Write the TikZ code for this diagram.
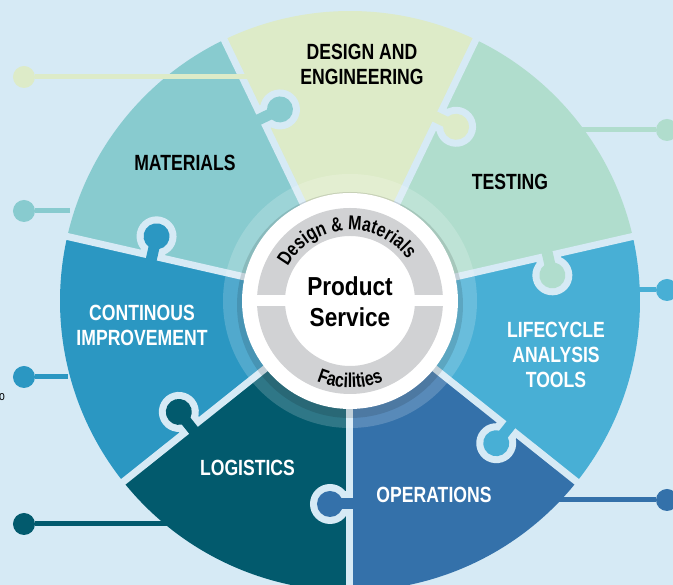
\documentclass[tikz,border=0pt]{standalone}
\usepackage{fontspec}
\setmainfont{Liberation Sans}[FakeStretch=0.8]
\newfontfamily\corefont{Liberation Sans}[FakeStretch=0.87]
\usepackage{tikz}
\usetikzlibrary{decorations}
\usetikzlibrary{decorations.text}

\definecolor{bgblue}{HTML}{D6EAF5}
\definecolor{cDesign}{HTML}{DDEBC8}
\definecolor{cTesting}{HTML}{B0DDCD}
\definecolor{cMaterials}{HTML}{88CBCF}
\definecolor{cContinous}{HTML}{2B97C2}
\definecolor{cLogistics}{HTML}{025A6D}
\definecolor{cOperations}{HTML}{3471AA}
\definecolor{cLifecycle}{HTML}{48AFD5}
\definecolor{bandgray}{HTML}{D1D2D4}

\begin{document}
\begin{tikzpicture}[x=1pt,y=1pt]
    \newcommand{\outr}{290}
    \newcommand{\piecefill}[3]{\fill[#1] (0,0) -- (#2:\outr) arc (#2:#3:\outr) -- cycle;}
    \newcommand{\piecetab}[2]{%
      \begin{scope}[rotate=#2]
        \fill[bgblue] (203,-20) circle (20);
        \fill[bgblue] (190.5,0) rectangle (215.5,-20);
        \fill[#1] (203,-20) circle (13);
        \fill[#1] (197.5,6) rectangle (208.5,-20);
      \end{scope}}
    \tikzstyle{piecetext}=[font=\bfseries\fontsize{22}{25}\selectfont, align=center, inner sep=0pt]
    \tikzstyle{pindot}=[circle, inner sep=0pt, minimum size=22pt]
    \tikzstyle{link}=[line width=5pt]
    \tikzstyle{gap}=[draw=bgblue, line width=7pt]

    \useasboundingbox (-350,-284) rectangle (323,301);
    \fill[bgblue] (-350,-284) rectangle (323,301);

    % puzzle pieces
    \piecefill{cOperations}{-90}{-38.571}
    \piecefill{cLifecycle}{-38.571}{12.857}
    \piecefill{cTesting}{12.857}{64.286}
    \piecefill{cDesign}{64.286}{115.714}
    \piecefill{cMaterials}{115.714}{167.143}
    \piecefill{cContinous}{167.143}{218.571}
    \piecefill{cLogistics}{218.571}{270}

    \draw[gap] (0,0) -- (-90:300);
    \draw[gap] (0,0) -- (-38.571:300);
    \draw[gap] (0,0) -- (12.857:300);
    \draw[gap] (0,0) -- (64.286:300);
    \draw[gap] (0,0) -- (115.714:300);
    \draw[gap] (0,0) -- (167.143:300);
    \draw[gap] (0,0) -- (218.571:300);

    \piecetab{cOperations}{-90}
    \piecetab{cLifecycle}{-38.571}
    \piecetab{cTesting}{12.857}
    \piecetab{cDesign}{64.286}
    \piecetab{cMaterials}{115.714}
    \piecetab{cContinous}{167.143}
    \piecetab{cLogistics}{218.571}

    % connectors
    \node[pindot, fill=cDesign] (dDesign) at (-326,224) {};
    \node[pindot, fill=cMaterials] (dMaterials) at (-326,90) {};
    \node[pindot, fill=cContinous] (dContinous) at (-326,-76) {};
    \node[pindot, fill=cLogistics] (dLogistics) at (-326,-223) {};
    \node[pindot, fill=cTesting] (dTesting) at (317,171) {};
    \node[pindot, fill=cLifecycle] (dLifecycle) at (317,11) {};
    \node[pindot, fill=cOperations] (dOperations) at (317,-199) {};
    \coordinate (eDesign) at (-95,224);
    \coordinate (eMaterials) at (-280,90);
    \coordinate (eContinous) at (-282,-76);
    \coordinate (eLogistics) at (-180,-223);
    \coordinate (eTesting) at (230,171);
    \coordinate (eLifecycle) at (285,11);
    \coordinate (eOperations) at (207,-199);
    \draw[link, cDesign] (dDesign)--(eDesign);
    \draw[link, cMaterials] (dMaterials)--(eMaterials);
    \draw[link, cContinous] (dContinous)--(eContinous);
    \draw[link, cLogistics] (dLogistics)--(eLogistics);
    \draw[link, cTesting] (dTesting)--(eTesting);
    \draw[link, cLifecycle] (dLifecycle)--(eLifecycle);
    \draw[link, cOperations] (dOperations)--(eOperations);

    % centre
    \fill[white, opacity=0.18, even odd rule] (0,0) circle (127) circle (108);
    \fill[black, opacity=0.12] (0,-4) circle (113);
    \fill[white] (0,0) circle (108);
    \fill[bandgray, even odd rule] (0,0) circle (93) circle (65);
    \fill[white] (-95,-5.5) rectangle (95,5.5);
    \node[font=\corefont\bfseries\fontsize{26}{31}\selectfont, align=center, inner sep=0pt] (nCore) at (0,-0.5) {Product\\Service};
    \path[decorate, decoration={text along path, text align=center,
      text={|\bfseries\fontsize{20}{20}\selectfont|Design {\&} Materials}}] (156:71) arc (156:31:71);
    \path[decorate, decoration={text along path, text align=center,
      text={|\bfseries\fontsize{20}{20}\selectfont|Facilities}}] (238:87) arc (238:302:87);

    % labels
    \node[piecetext] (nDesign) at (12,236.5) {DESIGN AND\\ENGINEERING};
    \node[piecetext] (nTesting) at (160,119) {TESTING};
    \node[piecetext] (nMaterials) at (-165,138) {MATERIALS};
    \node[piecetext, white] (nContinous) at (-208,-24.5) {CONTINOUS\\IMPROVEMENT};
    \node[piecetext, white] (nLogistics) at (-102.5,-167) {LOGISTICS};
    \node[piecetext, white] (nOperations) at (84,-194) {OPERATIONS};
    \node[piecetext, white] (nLifecycle) at (206,-54) {LIFECYCLE\\ANALYSIS\\TOOLS};
    \node[font=\fontsize{13}{13}\selectfont, inner sep=0pt] (nStray) at (-348,-96) {o};
\end{tikzpicture}
\end{document}
